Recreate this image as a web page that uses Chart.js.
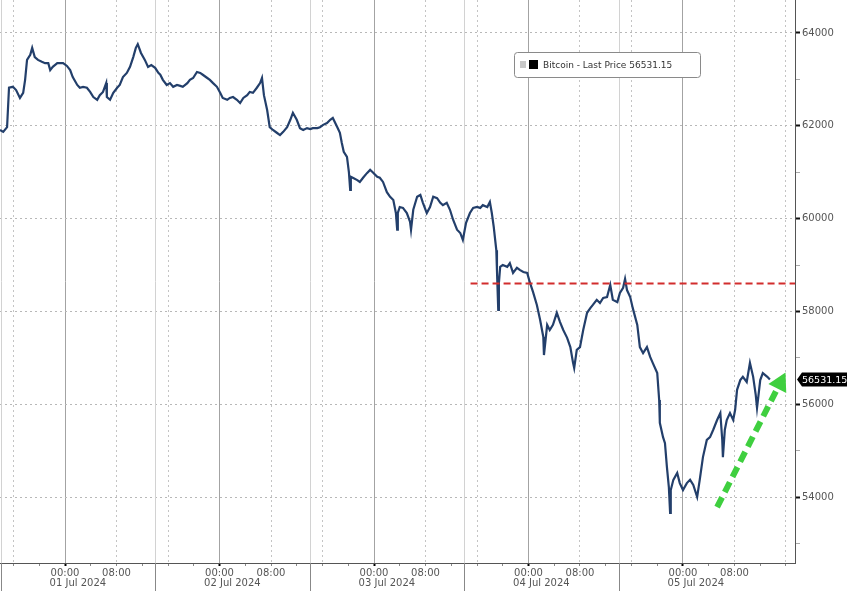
<!DOCTYPE html>
<html>
<head>
<meta charset="utf-8">
<script src="https://cdn.jsdelivr.net/npm/chart.js@4.4.1/dist/chart.umd.min.js"></script>
<style>
  html, body { margin: 0; padding: 0; background: #fff; }
  #wrap { width: 848px; height: 591px; }
</style>
</head>
<body>
<div id="wrap"><canvas id="btc" width="848" height="591"></canvas></div>
<script>
// x values are hours counted from 01 Jul 2024 00:00
const hours = [
  -10.1, -9.6, -9.0, -8.7, -8.1, -7.6, -7.0, -6.5, -6.2, -5.9, -5.4, -5.1, -4.7, -4.2, -3.6, -3.1, -2.6, -2.3, -1.9, -1.2, -0.8, -0.3,
  0.3, 0.8, 1.2, 1.9, 2.3, 2.8, 3.4, 3.9, 4.4, 5.0, 5.4, 5.9, 6.4, 6.5, 7.0, 7.5, 8.1, 8.5, 9.0, 9.6, 10.1, 10.6, 11.0, 11.3, 11.8,
  12.4, 12.9, 13.4, 14.0, 14.5, 14.8, 15.2, 15.8, 16.3, 16.8, 17.4, 17.9, 18.3, 19.0, 19.4, 19.9, 20.5, 21.0, 21.4, 22.1, 22.5, 23.0, 23.6,
  24.1, 24.5, 25.2, 25.6, 26.1, 26.7, 27.2, 27.7, 28.3, 28.7, 29.2, 29.8, 30.3, 30.6, 30.9, 31.4, 31.8, 32.3, 32.9, 33.4, 33.9, 34.5,
  35.0, 35.4, 36.0, 36.5, 37.0, 37.6, 38.1, 38.5, 39.2, 39.6, 40.1, 40.7, 41.2, 41.6, 42.3, 42.7, 43.0, 43.3, 43.8, 44.1, 44.3, 44.4,
  44.7, 45.4, 45.8, 46.3, 46.9, 47.4, 47.8, 48.5, 48.9, 49.4, 50.0, 50.5, 51.0, 51.4, 51.6, 51.7, 52.0, 52.5, 53.1, 53.6, 53.75, 54.1,
  54.7, 55.2, 55.6, 56.2, 56.7, 57.2, 57.8, 58.3, 58.7, 59.3, 59.8, 60.3, 60.9, 61.4, 61.8, 62.3, 62.9, 63.4, 64.0, 64.5, 64.9, 65.6,
  66.0, 66.3, 66.6, 67.0, 67.1, 67.3, 67.4, 67.6, 68.0, 68.7, 69.1, 69.6, 70.2, 70.7, 71.2, 71.8, 72.2, 72.7, 73.3, 73.8, 74.3, 74.4,
  74.9, 75.3, 75.8, 76.4, 76.9, 77.4, 78.0, 78.5, 78.9, 79.1, 79.5, 80.0, 80.5, 81.1, 81.6, 82.0, 82.6, 83.1, 83.6, 84.2, 84.7, 85.1,
  85.8, 86.2, 86.7, 87.0, 87.3, 87.8, 88.2, 88.9, 89.3, 89.8, 90.4, 90.9, 91.3, 92.0, 92.3, 92.4, 92.9, 93.2, 93.5, 93.8, 94.0, 94.1,
  94.5, 95.1, 95.5, 96.0, 96.6, 97.1, 97.6, 98.2, 98.6, 99.1, 99.7, 100.2, 100.7, 101.3, 101.8, 102.1, 102.2, 102.5, 102.8, 103.3,
  103.8, 104.1, 104.4, 104.9, 105.3, 105.9, 106.4, 106.9, 107.3, 107.5, 108.0, 108.4, 109.1, 109.5
];
const prices = [
  61910, 61870, 61970, 62820, 62840, 62770, 62600, 62710, 62990, 63420, 63530, 63680, 63480, 63420, 63380, 63350, 63350, 63200, 63270, 63350, 63350, 63350,
  63290, 63200, 63050, 62880, 62820, 62840, 62820, 62730, 62620, 62560, 62660, 62730, 62920, 62620, 62560, 62710, 62820, 62880, 63050, 63140, 63270, 63480, 63680, 63760, 63570,
  63420, 63270, 63310, 63250, 63140, 63100, 62990, 62880, 62920, 62840, 62880, 62860, 62840, 62920, 62990, 63030, 63160, 63140, 63100, 63030, 62990, 62920, 62840,
  62710, 62600, 62560, 62600, 62620, 62560, 62490, 62600, 62660, 62730, 62710, 62820, 62920, 63030, 62660, 62340, 61970, 61910, 61850, 61800, 61870, 61970,
  62130, 62280, 62130, 61950, 61910, 61950, 61930, 61950, 61950, 61970, 62020, 62060, 62130, 62170, 61970, 61850, 61630, 61440, 61330, 61000, 60620, 60900,
  60880, 60830, 60790, 60880, 60980, 61050, 61000, 60900, 60880, 60790, 60570, 60470, 60400, 60120, 59760, 60120, 60250, 60230, 60120, 59930, 59760, 60190,
  60470, 60510, 60340, 60120, 60250, 60470, 60440, 60340, 60290, 60340, 60190, 59970, 59760, 59690, 59540, 59910, 60120, 60230, 60250, 60230, 60290, 60250,
  60360, 60120, 59820, 59320, 58890, 58030, 58610, 58960, 59000, 58960, 59040, 58830, 58940, 58890, 58850, 58830, 58630, 58420, 58140, 57820, 57450, 57060,
  57710, 57600, 57710, 57970, 57770, 57600, 57430, 57230, 56910, 56780, 57170, 57230, 57600, 57970, 58070, 58140, 58250, 58180, 58290, 58310, 58570, 58250,
  58200, 58400, 58510, 58700, 58460, 58310, 58070, 57710, 57230, 57100, 57230, 57020, 56890, 56670, 56090, 55600, 55290, 55160, 54650, 54220, 53660, 54150,
  54370, 54520, 54300, 54150, 54300, 54370, 54260, 54000, 54370, 54860, 55230, 55290, 55450, 55660, 55810, 55230, 54860, 55450, 55660, 55810,
  55660, 55880, 56310, 56520, 56590, 56480, 56890, 56590, 56200, 55920, 56520, 56670, 56590, 56531.15
];
const lastPrice = 56531.15;
const seriesName = "Bitcoin - Last Price";

// red resistance level and green arrow (start, end)
const levelHours = [63, 113.4];
const levelPrices = [58600, 58600];
const arrowHours = [101.3, 111.5];
const arrowPrices = [53780, 56570];

const yTicks = [53000, 54000, 55000, 56000, 57000, 58000, 59000, 60000, 61000, 62000, 63000, 64000];
const xTicks = [-8, -4, 0, 4, 8, 12, 16, 20, 24, 28, 32, 36, 40, 44, 48, 52, 56, 60, 64, 68, 72, 76, 80, 84, 88, 92, 96, 100, 104, 108, 112];
const dayLabels = ["01 Jul 2024", "02 Jul 2024", "03 Jul 2024", "04 Jul 2024", "05 Jul 2024"];
const dayCenters = [2, 26, 50, 74, 98];
const sessionBreaks = [-10, 14, 38, 62, 86];

Chart.defaults.font.family = "DejaVu Sans";
Chart.defaults.font.size = 10;

function hourOfDay(v) {
  return ((v % 24) + 24) % 24;
}

// drop the half-label padding chart.js keeps around axes
function noPad(s) {
  s.paddingTop = 0;
  s.paddingBottom = 0;
  s.paddingLeft = 0;
  s.paddingRight = 0;
}

const overlay = {
  id: "overlay",
  beforeDatasetsDraw(chart) {
    const { ctx, chartArea, scales: { x } } = chart;
    ctx.save();
    ctx.lineWidth = 1;
    sessionBreaks.forEach(h => {
      const px = Math.round(x.getPixelForValue(h)) + 0.5;
      ctx.strokeStyle = "#d2d2d2";
      ctx.beginPath();
      ctx.moveTo(px, chartArea.top);
      ctx.lineTo(px, chartArea.bottom);
      ctx.stroke();
    });
    ctx.restore();
  },
  afterDatasetsDraw(chart) {
    const { ctx, chartArea, scales: { x, y } } = chart;
    ctx.save();

    // arrow head
    const x0 = x.getPixelForValue(arrowHours[0]), y0 = y.getPixelForValue(arrowPrices[0]);
    const x1 = x.getPixelForValue(arrowHours[1]), y1 = y.getPixelForValue(arrowPrices[1]);
    const a = Math.atan2(y1 - y0, x1 - x0);
    const len = 18, half = 10;
    const tipX = x1 + Math.cos(a) * 6, tipY = y1 + Math.sin(a) * 6;
    const bx = tipX - Math.cos(a) * len, by = tipY - Math.sin(a) * len;
    ctx.fillStyle = "#3fcf3f";
    ctx.beginPath();
    ctx.moveTo(tipX, tipY);
    ctx.lineTo(bx + Math.sin(a) * half, by - Math.cos(a) * half);
    ctx.lineTo(bx - Math.sin(a) * half, by + Math.cos(a) * half);
    ctx.closePath();
    ctx.fill();

    // legend box
    ctx.fillStyle = "#fff";
    ctx.strokeStyle = "#8a8a8a";
    ctx.lineWidth = 1;
    ctx.beginPath();
    ctx.roundRect(514.5, 52.5, 186, 25, 3);
    ctx.fill();
    ctx.stroke();
    ctx.fillStyle = "#c8c8c8";
    ctx.fillRect(520, 61, 6, 7);
    ctx.fillStyle = "#000";
    ctx.fillRect(529, 60, 9, 9);
    ctx.fillStyle = "#333";
    ctx.font = "9px 'DejaVu Sans'";
    ctx.textBaseline = "middle";
    ctx.textAlign = "left";
    ctx.fillText(seriesName + " " + lastPrice.toFixed(2), 543, 65.5);

    // last price tag on the axis
    const py = y.getPixelForValue(lastPrice);
    const left = chartArea.right + 2;
    ctx.fillStyle = "#000";
    ctx.beginPath();
    ctx.moveTo(left, py);
    ctx.lineTo(left + 5, py - 7);
    ctx.lineTo(847, py - 7);
    ctx.lineTo(847, py + 7);
    ctx.lineTo(left + 5, py + 7);
    ctx.closePath();
    ctx.fill();
    ctx.fillStyle = "#fff";
    ctx.font = "9.5px 'DejaVu Sans'";
    ctx.fillText(lastPrice.toFixed(2), left + 5, py + 0.5);
    ctx.restore();
  },
  afterDraw(chart) {
    const { ctx, chartArea, scales: { x } } = chart;
    ctx.save();
    ctx.strokeStyle = "#888";
    ctx.lineWidth = 1;
    sessionBreaks.forEach(h => {
      const px = Math.round(x.getPixelForValue(h)) + 0.5;
      ctx.beginPath();
      ctx.moveTo(px, chartArea.bottom);
      ctx.lineTo(px, chart.height);
      ctx.stroke();
    });
    ctx.fillStyle = "#555";
    ctx.font = "10px 'DejaVu Sans'";
    ctx.textAlign = "center";
    ctx.textBaseline = "middle";
    dayLabels.forEach((d, i) => {
      ctx.fillText(d, x.getPixelForValue(dayCenters[i]), 583);
    });
    ctx.restore();
  }
};

new Chart(document.getElementById("btc"), {
  type: "line",
  data: {
    datasets: [
      {
        data: arrowHours.map((h, i) => ({ x: h, y: arrowPrices[i] })),
        borderColor: "#3fcf3f",
        borderWidth: 6,
        borderDash: [11, 6],
        borderCapStyle: "butt",
        pointRadius: 0
      },
      {
        data: levelHours.map((h, i) => ({ x: h, y: levelPrices[i] })),
        borderColor: "#d22d2d",
        borderWidth: 2,
        borderDash: [7, 4],
        pointRadius: 0
      },
      {
        label: seriesName,
        data: hours.map((h, i) => ({ x: h, y: prices[i] })),
        borderColor: "#233f6b",
        borderWidth: 2.2,
        pointRadius: 0,
        tension: 0
      }
    ]
  },
  options: {
    responsive: false,
    animation: false,
    layout: { padding: 0 },
    plugins: { legend: { display: false }, tooltip: { enabled: false } },
    scales: {
      x: {
        type: "linear",
        min: -10.1,
        max: 113.4,
        afterBuildTicks: s => { s.ticks = xTicks.map(v => ({ value: v })); },
        afterFit: s => { s.height = 28; noPad(s); },
        ticks: {
          autoSkip: false,
          maxRotation: 0,
          padding: 1,
          color: "#555",
          callback: v => hourOfDay(v) === 0 ? "00:00" : hourOfDay(v) === 8 ? "08:00" : ""
        },
        grid: {
          color: c => {
            const h = hourOfDay(c.tick.value);
            if (h === 0) return "#a3a3a3";
            if (h === 8 || h === 16) return "#c4c4c4";
            return "rgba(0,0,0,0)";
          },
          lineWidth: 1,
          tickLength: 3,
          tickColor: c => hourOfDay(c.tick.value) === 0 ? "#000" : "#888",
          tickWidth: c => hourOfDay(c.tick.value) === 0 ? 2 : 1
        },
        border: {
          color: "#555",
          width: 1,
          dash: c => (c.tick && hourOfDay(c.tick.value) !== 0) ? [2, 3] : []
        }
      },
      y: {
        position: "right",
        min: 52578,
        max: 64711,
        afterBuildTicks: s => { s.ticks = yTicks.map(v => ({ value: v })); },
        afterFit: s => { s.width = 53; noPad(s); },
        ticks: {
          padding: 2,
          color: "#555",
          callback: v => v % 2000 === 0 ? String(v) : ""
        },
        grid: {
          color: c => c.tick.value % 2000 === 0 ? "#b8b8b8" : "rgba(0,0,0,0)",
          lineWidth: 1,
          tickLength: 5,
          tickColor: c => c.tick.value % 2000 === 0 ? "#111" : "#aaa",
          tickWidth: c => c.tick.value % 2000 === 0 ? 2 : 1
        },
        border: {
          color: "#555",
          width: 1,
          dash: c => c.tick ? [2, 3] : []
        }
      }
    }
  },
  plugins: [overlay]
});
</script>
</body>
</html>
